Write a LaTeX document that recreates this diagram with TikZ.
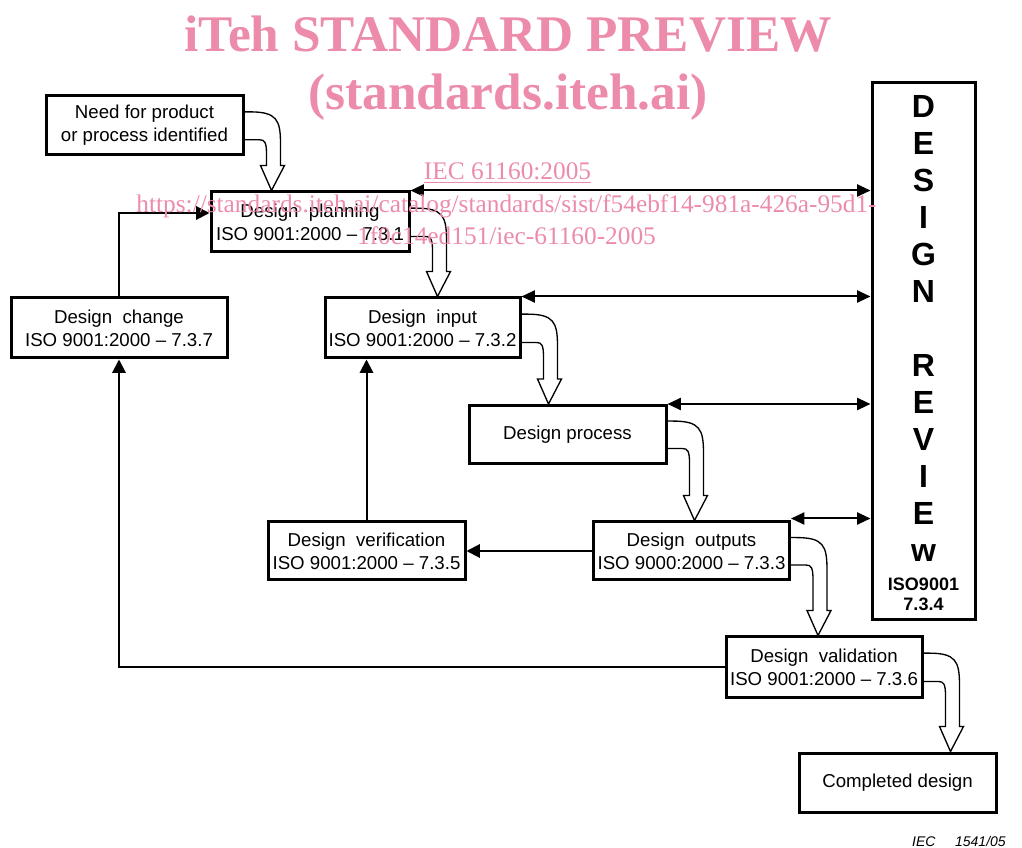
\documentclass[tikz,border=0pt]{standalone}
\usepackage{fontspec}
\setmainfont{Liberation Sans}
\newfontfamily\wmfont{Liberation Serif}
\usetikzlibrary{calc,arrows.meta}
\definecolor{wm}{RGB}{236,140,170}
\newcommand\hollowarr[2]{%
 \coordinate (ha) at ($(#1.east)+(27,0)$);
 \draw[hollowline] let \p1=($(#1.north east)!0.28!(#1.south east)$),
   \p2=($(#1.north east)!0.73!(#1.south east)$),
   \p3=(ha |- #2.north) in
  (\x1,\y1) -- ({\x1+4pt},\y1)
  .. controls ({\x3+4pt},\y1) and ({\x3+6.75pt},{\y1-6pt}) .. ({\x3+6.75pt},{\y1-24pt})
  -- ({\x3+6.75pt},{\y3+18.75pt}) -- ({\x3+9.75pt},{\y3+18.75pt})
  -- (\x3,\y3) -- ({\x3-8.25pt},{\y3+18.75pt}) -- ({\x3-3.75pt},{\y3+18.75pt})
  -- ({\x3-3.75pt},{\y2-11pt}) .. controls ({\x3-3.75pt},{\y2-2pt}) and ({\x3-5pt},\y2) .. ({\x3-9pt},\y2)
  -- (\x2,\y2);}
\begin{document}
\begin{tikzpicture}[x=0.75pt,y=-0.75pt,
 box/.style={draw, line width=2.25pt, inner sep=0pt, align=center, font=\fontsize{14}{17.25}\selectfont},
 sz/.style 2 args={minimum width={#1*0.75pt}, minimum height={#2*0.75pt}},
 conn/.style={line width=1.5pt, -{Triangle[length=10pt,width=10pt]}},
 dbl/.style={line width=1.5pt, {Triangle[length=10pt,width=9pt]}-{Triangle[length=10pt,width=9pt]}},
 hollowline/.style={line width=1pt},
 revl/.style={anchor=base, inner sep=0pt, font=\fontsize{24}{24}\selectfont\bfseries},
 wmtitle/.style={anchor=base, inner sep=0pt, text=wm, font=\fontsize{38.5}{40}\wmfont\bfseries},
 wmsmall/.style={anchor=base, inner sep=0pt, text=wm, font=\fontsize{19}{21}\wmfont}]
\path[use as bounding box] (0,0) rectangle (1022,848);

% boxes
\node[box, sz={197}{59}] (need) at (144.5,125.5) {Need for product\\or process identified};
\node[box, sz={198}{60}] (plan) at (310,222) {Design\ \ planning\\ISO 9001:2000 – 7.3.1};
\node[box, sz={216}{60}] (change) at (119,328) {Design\ \ change\\ISO 9001:2000 – 7.3.7};
\node[box, sz={195}{60}] (input) at (422.5,328) {Design\ \ input\\ISO 9001:2000 – 7.3.2};
\node[box, sz={197}{58}] (process) at (567.5,434.5) {Design process};
\node[box, sz={197}{58}] (verif) at (366.5,551) {Design\ \ verification\\ISO 9001:2000 – 7.3.5};
\node[box, sz={196}{58}] (outputs) at (691.5,551) {Design\ \ outputs\\ISO 9000:2000 – 7.3.3};
\node[box, sz={196}{60}] (valid) at (824,667) {Design\ \ validation\\ISO 9001:2000 – 7.3.6};
\node[box, sz={197}{59}] (done) at (897.5,782.5) {Completed design};
\node[box, sz={103}{537}] (review) at (923.5,351.5) {};

% review letters
\foreach \l/\k in {D/0,E/1,S/2,I/3,G/4,N/5,R/7,E/8,V/9,I/10,E/11,w/12}
  \node[revl] (rv\k) at (923.5,{117.5+37*\k}) {\l};
\node[anchor=base, inner sep=0pt, font=\fontsize{13.5}{16}\selectfont\bfseries] (rviso) at (923.5,590) {ISO9001};
\node[anchor=base, inner sep=0pt, font=\fontsize{13.5}{16}\selectfont\bfseries] (rvnum) at (923.5,611) {7.3.4};

% double arrows to design review
\draw[dbl] (plan.north east) -- (plan.north east -| review.west);
\draw[dbl] (input.north east) -- (input.north east -| review.west);
\draw[dbl] (process.north east) -- (process.north east -| review.west);
\coordinate (oa) at ($(outputs.north east)+(0,-2)$);
\draw[dbl] (oa) -- (oa -| review.west);

% feedback connectors
\draw[conn] (change.north) |- ($(plan.west)+(0,-9)$);
\draw[conn] (verif.north) -- (verif.north |- input.south);
\draw[conn] (outputs.west) -- (verif.east);
\draw[conn] (valid.west) -| (change.south);

% hollow flow arrows
\hollowarr{need}{plan}
\hollowarr{plan}{input}
\hollowarr{input}{process}
\hollowarr{process}{outputs}
\hollowarr{outputs}{valid}
\hollowarr{valid}{done}

% figure label
\node[anchor=base east, inner sep=0pt, font=\fontsize{10.5}{12}\selectfont\itshape] (figlbl) at (1006,846) {IEC\hspace{1.4em}1541/05};

% watermark
\node[wmtitle] (wm1) at (508,52) {iTeh STANDARD PREVIEW};
\node[wmtitle] (wm2) at (508,110) {(standards.iteh.ai)};
\node[wmsmall] (wm3) at (507.5,180) {\underline{IEC 61160:2005}};
\node[wmsmall] (wm4) at (506.5,213) {https://standards.iteh.ai/catalog/standards/sist/f54ebf14-981a-426a-95d1-};
\node[wmsmall] (wm5) at (506.5,245) {1f0c14ed151/iec-61160-2005};
\end{tikzpicture}
\end{document}
